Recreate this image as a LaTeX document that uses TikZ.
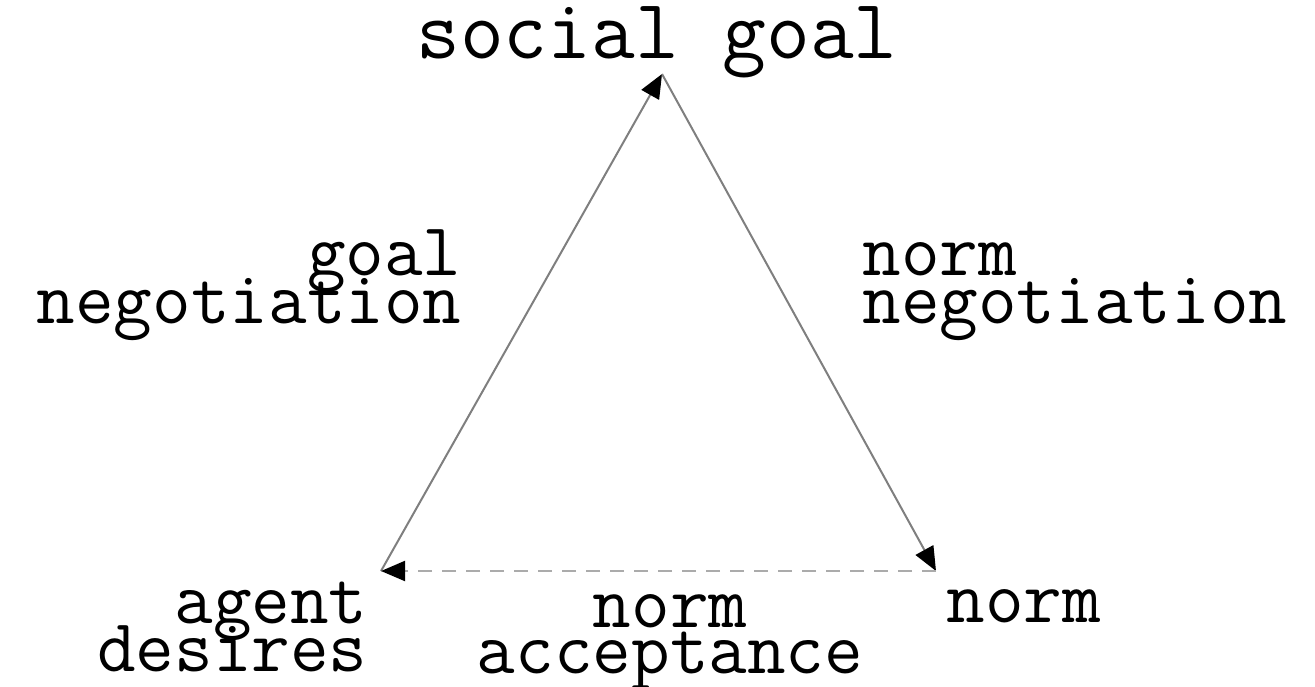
\documentclass[tikz,border=0pt]{standalone}
\usepackage{fontspec}
\usetikzlibrary{arrows.meta, positioning}
\definecolor{edgegray}{HTML}{7F7F7F}
\definecolor{dashgray}{HTML}{ABABAB}
\newcommand{\lblfont}[1]{\ttfamily\fontsize{37.5}{#1}\selectfont\lineskiplimit=-50pt\relax}

\begin{document}
\begin{tikzpicture}[x=0.5pt, y=-0.5pt, >={Triangle[length=12pt, width=10pt, black]},
  lbl/.style={font=\lblfont{24}, inner sep=0pt}]
\useasboundingbox (0,0) rectangle (1315,686);
% corners of the triangle
\coordinate (sg) at (662,74);
\coordinate (ad) at (381,571);
\coordinate (nm) at (936,571);
% labels
\node[lbl, font=\ttfamily\fontsize{42.5}{24}\selectfont, anchor=base] (social) at (657,58) {social goal};
\node[lbl, align=right, anchor=base east] (goalneg) at (462,323) {goal\\negotiation};
\node[lbl, align=left, anchor=base west] (normneg) at (862,323) {norm\\negotiation};
\node[lbl, align=right, anchor=base east] (agent) at (368,671) {agent\\desires};
\node[lbl, font=\lblfont{23}, align=center, anchor=base] (accept) at (670,673) {norm\\acceptance};
\node[lbl, anchor=base west] (norm) at (946,622) {norm};
% connectors
\draw[->, edgegray, line width=1pt] (ad) -- (sg);
\draw[->, edgegray, line width=1pt] (sg) -- (nm);
\draw[->, dashgray, line width=1pt, dash pattern=on 7pt off 5pt] (nm) -- (ad);
\end{tikzpicture}
\end{document}
